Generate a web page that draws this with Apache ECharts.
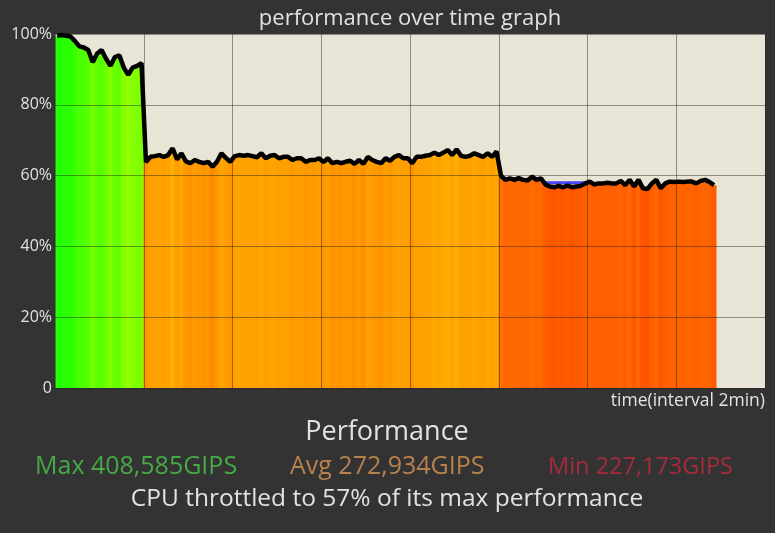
<!DOCTYPE html>
<html>
<head>
<meta charset="utf-8">
<title>performance over time graph</title>
<script src="https://cdn.jsdelivr.net/npm/echarts@6/dist/echarts.min.js"></script>
<style>
  html, body { margin: 0; padding: 0; background: #333333; }
  #chart { width: 775px; height: 533px; }
</style>
</head>
<body>
<div id="chart"></div>
<script>
// 160 time slots on the axis (8 grid columns x 20), samples fill the first 149
const slotCount = 160;
const yTicks = [0, 20, 40, 60, 80, 100];

// performance in % of max
const perfGreen = [
  99.5, 99.7, 99.5, 99.3, 98, 96.5, 96.2, 95.5, 92, 94.5,
  95.5, 93, 91, 93.5, 94, 90.5, 88.5, 90.5, 91, 91.8
];
const perfOrange = [
  63.8, 65.3, 65.5, 65.8, 65.3, 65.8, 67.7, 64.6, 66.3, 64,
  63.5, 64.4, 63.9, 63.5, 63.9, 62.5, 63.9, 66.3, 65, 63.9,
  65.5, 65.8, 65.6, 65.8, 65.5, 65.2, 66.3, 64.9, 65.6, 65.8,
  64.9, 65.3, 65.3, 64.4, 64.9, 64.9, 63.9, 64.4, 64.4, 64.9,
  63.8, 64.9, 63.5, 63.9, 63.5, 63.9, 64.2, 63.3, 64.4, 63.3,
  65.3, 64.4, 63.9, 63.5, 64.9, 64.2, 65.3, 65.8, 64.9, 64.9,
  63.5, 65.3, 65.3, 65.6, 65.8, 66.5, 65.8, 66.5, 67.2, 65.8,
  67.4, 65.6, 65.3, 65.6, 66.3, 65.8, 65.3, 66.3, 65.3, 66.8
];
const perfRed = [
  60, 58.8, 59.2, 58.8, 59.3, 58.8, 58.6, 59.7, 58.8, 59.2,
  57.5, 56.9, 56.7, 57.1, 56.7, 57.2, 56.7, 56.9, 57.1, 57.8,
  58.3, 57.5, 57.8, 57.8, 58, 57.8, 57.8, 58.5, 57.3, 58.8,
  56.9, 58.8, 56.4, 56.2, 57.8, 58.8, 56.4, 57.8, 58.3, 58.2,
  58.3, 58.2, 58.3, 58.3, 57.8, 58.5, 58.8, 58.2, 57.3
];
// blue stretch marking the minimum
const minStart = 110;
const minValues = [58, 58, 58, 58, 58, 58, 58, 58, 58, 58];

const perfValues = perfGreen.concat(perfOrange, perfRed);

let categories = [];
for (let i = 0; i < slotCount; i++) categories.push(i);

let minSeries = categories.map(i => {
    let k = i - minStart;
    return (k >= 0 && k < minValues.length) ? minValues[k] : null;
});

const txt = '#e2e2e2';
const fontName = 'Open Sans';
const gridColor = 'rgba(30,30,30,0.45)';

// text lines under the chart, positioned by their centre
function label(text, x, y, size, color, align) {
    return {
        type: 'text', x: x, y: y,
        style: {
            text: text, fill: color, fontSize: size, fontFamily: fontName,
            textAlign: align, textVerticalAlign: 'middle'
        }
    };
}

let chart = echarts.init(document.getElementById('chart'));

chart.setOption({
    backgroundColor: '#333333',
    animation: false,
    grid: {
        left: 55, right: 10, top: 34, bottom: 145,
        show: true,
        backgroundColor: '#e8e5d6',
        borderWidth: 0
    },
    visualMap: {
        show: false,
        type: 'continuous',
        seriesIndex: 0,
        min: 55,
        max: 100,
        inRange: {
            color: ['#ff4a00', '#ff6c00', '#ff9800', '#ffb400', '#ffcc00', '#f0e800',
                    '#ccff00', '#a4ff00', '#80ff00', '#55ff00', '#22ff00']
        }
    },
    xAxis: {
        type: 'category',
        data: categories,
        zlevel: 1,
        axisLine: { show: false },
        axisTick: { show: false },
        axisLabel: { show: false },
        splitLine: {
            show: true,
            interval: 19,
            lineStyle: { color: gridColor, width: 1 }
        }
    },
    yAxis: {
        type: 'value',
        min: yTicks[0],
        max: yTicks[yTicks.length - 1],
        interval: 20,
        zlevel: 1,
        axisLine: { show: false },
        axisTick: { show: false },
        axisLabel: {
            color: txt,
            fontSize: 16,
            fontFamily: fontName,
            margin: 3,
            formatter: v => v === 0 ? '0' : v + '%'
        },
        splitLine: { lineStyle: { color: gridColor, width: 1 } }
    },
    series: [
        {
            type: 'bar',
            data: perfValues,
            barWidth: '115%',
            barGap: '-100%',
            z: 1
        },
        {
            type: 'line',
            data: minSeries,
            symbol: 'none',
            zlevel: 1,
            z: 4,
            lineStyle: { color: '#2b2bff', width: 3, opacity: 0.85 }
        },
        {
            type: 'line',
            data: perfValues,
            symbol: 'none',
            zlevel: 1,
            z: 5,
            lineStyle: { color: '#000000', width: 4.5 }
        }
    ],
    graphic: [
        label('performance over time graph', 410, 19, 22, txt, 'center'),
        label('time(interval 2min)', 765, 401, 17.5, txt, 'right'),
        label('Performance', 387, 432, 27, txt, 'center'),
        label('Max 408,585GIPS', 35, 467, 25, '#46a946', 'left'),
        label('Avg 272,934GIPS', 290, 467, 25, '#b8824c', 'left'),
        label('Min 227,173GIPS', 548, 467, 23.5, '#a82b3c', 'left'),
        label('CPU throttled to 57% of its max performance', 387, 499, 24.5, txt, 'center')
    ]
});
</script>
</body>
</html>
